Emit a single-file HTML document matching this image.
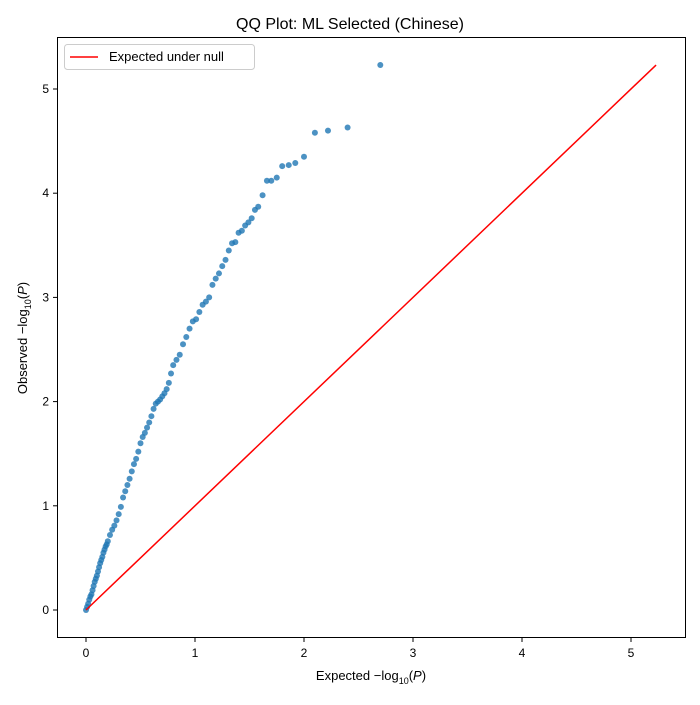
<!DOCTYPE html>
<html><head><meta charset="utf-8"><style>
body{margin:0;background:#fff;font-family:"Liberation Sans","DejaVu Sans",sans-serif}
</style></head><body>
<svg id="chart" width="700" height="700" xmlns="http://www.w3.org/2000/svg"></svg>
<script>
const expectedX=[0,0.01,0.02,0.03,0.04,0.05,0.06,0.07,0.08,0.09,0.1,0.11,0.12,0.13,0.14,0.15,0.16,0.17,0.18,0.19,0.2,0.22,0.24,0.26,0.28,0.3,0.32,0.34,0.36,0.38,0.4,0.42,0.44,0.46,0.48,0.5,0.52,0.54,0.56,0.58,0.6,0.62,0.64,0.66,0.68,0.7,0.72,0.74,0.76,0.78,0.8,0.83,0.86,0.89,0.92,0.95,0.98,1.01,1.04,1.07,1.1,1.13,1.16,1.19,1.22,1.25,1.28,1.31,1.34,1.37,1.4,1.43,1.46,1.49,1.52,1.55,1.58,1.62,1.66,1.7,1.75,1.8,1.86,1.92,2.0,2.1,2.22,2.4,2.7];
const observedY=[0,0.03,0.06,0.1,0.13,0.15,0.19,0.23,0.27,0.3,0.33,0.37,0.41,0.45,0.48,0.51,0.55,0.58,0.61,0.63,0.66,0.72,0.77,0.81,0.86,0.92,0.99,1.08,1.14,1.2,1.26,1.33,1.4,1.45,1.52,1.6,1.66,1.7,1.75,1.8,1.86,1.93,1.98,2.0,2.02,2.05,2.08,2.12,2.18,2.27,2.35,2.4,2.45,2.55,2.62,2.7,2.77,2.79,2.86,2.93,2.96,3.0,3.12,3.18,3.23,3.3,3.36,3.45,3.52,3.53,3.62,3.64,3.69,3.72,3.76,3.84,3.87,3.98,4.12,4.12,4.15,4.26,4.27,4.29,4.35,4.58,4.6,4.63,5.23];
const xTicks=[0,1,2,3,4,5];
const yTicks=[0,1,2,3,4,5];
const nullMax=5.23;

const svg=document.getElementById('chart');
const NS='http://www.w3.org/2000/svg';
const X=v=>86+v*109, Y=v=>610-v*104.2;
function el(t,a,p){const e=document.createElementNS(NS,t);for(const k in a)e.setAttribute(k,a[k]);(p||svg).appendChild(e);return e;}
let t=el('text',{x:350,y:29,'text-anchor':'middle','font-size':16,fill:'#000'});t.textContent='QQ Plot: ML Selected (Chinese)';


const frame=el('rect',{x:57.5,y:37.5,width:628,height:600,fill:'none',stroke:'#000','stroke-width':1});


xTicks.forEach(v=>{el('line',{x1:X(v),x2:X(v),y1:638,y2:642,stroke:'#000'});
 const l=el('text',{x:X(v),y:657,'text-anchor':'middle','font-size':12});l.textContent=v;
 
 });
yTicks.forEach(v=>{el('line',{x1:53,x2:57,y1:Y(v),y2:Y(v),stroke:'#000'});
 const l=el('text',{x:49,y:Y(v)+4,'text-anchor':'end','font-size':12});l.textContent=v;
 
 });
const xl=el('text',{x:371,y:680,'text-anchor':'middle','font-size':13});
xl.innerHTML='Expected −log<tspan font-size="9" dy="4">10</tspan><tspan dy="-4">(</tspan><tspan font-style="italic">P</tspan>)';


const yl=el('text',{x:0,y:0,'text-anchor':'middle','font-size':13,transform:'translate(27,338) rotate(-90)'});
yl.innerHTML='Observed −log<tspan font-size="9" dy="4">10</tspan><tspan dy="-4">(</tspan><tspan font-style="italic">P</tspan>)';


const g=el('g',{});


expectedX.forEach((x,i)=>{const c=el('circle',{cx:X(x),cy:Y(observedY[i]),r:3,fill:'#1f77b4','fill-opacity':0.8},g);
 
 });
const ln=el('line',{x1:X(0),y1:Y(0),x2:X(nullMax),y2:Y(nullMax),stroke:'#ff0000','stroke-width':1.5});


const lg=el('g',{});


el('rect',{x:64.5,y:44.5,width:190,height:25,rx:3,fill:'#fff',stroke:'#ccc'},lg);
el('line',{x1:70,x2:98,y1:57,y2:57,stroke:'#ff0000','stroke-width':1.5},lg);
const lt=el('text',{x:109,y:61,'font-size':13},lg);lt.textContent='Expected under null';


</script></body></html>
